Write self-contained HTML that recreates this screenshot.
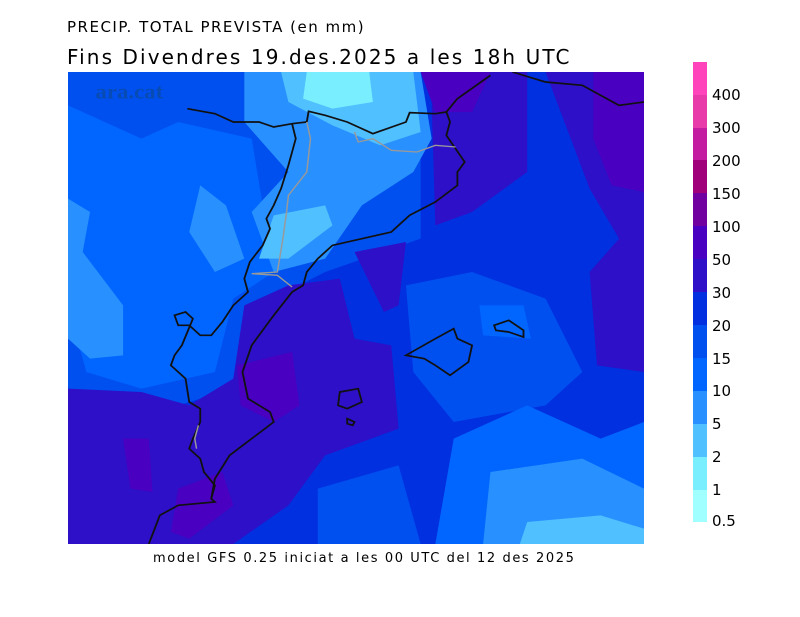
<!DOCTYPE html>
<html><head><meta charset="utf-8"><style>
body{margin:0;background:#fff;width:800px;height:617px;position:relative;overflow:hidden;font-family:"DejaVu Sans","Liberation Sans",sans-serif}
.t{position:absolute;color:#000;white-space:nowrap}
.lg{position:absolute;left:693px;width:14px;height:33px}
.ll{position:absolute;left:712px;font-size:15px}
</style></head><body>
<div class="t" style="left:67px;top:18px;font-size:15px;letter-spacing:1.5px">PRECIP. TOTAL PREVISTA (en mm)</div>
<div class="t" style="left:67px;top:45px;font-size:20px;letter-spacing:2.1px">Fins Divendres 19.des.2025 a les 18h UTC</div>
<svg style="position:absolute;left:68px;top:72px" width="576" height="472" viewBox="0 0 1568 1416" preserveAspectRatio="none">
<rect width="1568" height="1416" fill="#0030e0"/>
<path d="M0 0H960V500L700 600L520 700L450 950L300 1000L0 950Z" fill="#0050f0"/>
<path d="M0 100L200 200L300 150L500 200L560 600L450 680L400 900L200 950L50 900L0 700Z" fill="#0066ff"/>
<path d="M0 380L60 420L40 540L150 700L150 850L60 860L0 800Z" fill="#2890ff"/>
<path d="M360 340L430 400L480 560L400 600L330 480Z" fill="#2890ff"/>
<path d="M480 0H960L990 200L940 300L800 400L700 560L560 600L500 420L600 300L480 150Z" fill="#2890ff"/>
<path d="M580 0H940L960 180L850 220L720 160L600 90Z" fill="#50c0ff"/>
<path d="M560 430L700 400L720 460L600 560L520 560Z" fill="#50c0ff"/>
<path d="M650 0H820L830 90L720 110L640 80Z" fill="#78eeff"/>
<path d="M1000 120L1100 0H1568V1000L1450 900L1350 700L1100 600L1000 500L1000 300Z" fill="#0030e0"/>
<path d="M990 100L1060 0H1250V300L1100 420L1000 460Z" fill="#2d10c8"/>
<path d="M1300 0H1568V900L1440 880L1420 600L1500 500L1420 350Z" fill="#2d10c8"/>
<path d="M960 0H1150L1100 120L1000 120Z" fill="#4a00c0"/>
<path d="M1430 0H1568V360L1480 340L1430 200Z" fill="#4a00c0"/>
<path d="M0 950L200 960L330 1000L450 920L480 700L600 640L740 620L780 800L880 820L900 1070L700 1150L600 1300L450 1416H0Z" fill="#2d10c8"/>
<path d="M780 540L920 510L900 700L860 720Z" fill="#2d10c8"/>
<path d="M460 880L610 840L630 1000L560 1050L470 1000Z" fill="#4a00c0"/>
<path d="M300 1250L420 1200L450 1300L330 1400L280 1380Z" fill="#4a00c0"/>
<path d="M150 1100L220 1100L230 1260L170 1250Z" fill="#4a00c0"/>
<path d="M920 640L1100 600L1300 680L1400 900L1300 1000L1050 1050L940 900Z" fill="#0050f0"/>
<path d="M1120 700L1240 700L1260 800L1130 790Z" fill="#0066ff"/>
<path d="M1050 1100L1250 1000L1450 1100L1568 1050V1416H1000Z" fill="#0066ff"/>
<path d="M680 1250L900 1180L960 1416H680Z" fill="#0050f0"/>
<path d="M1150 1200L1400 1160L1568 1250V1416H1130Z" fill="#2890ff"/>
<path d="M1250 1350L1450 1330L1568 1370V1416H1230Z" fill="#50c0ff"/>
<g fill="none" stroke="#111" stroke-width="5">
<path d="M325 110L400 125L450 150L520 150L560 165L610 155L650 150L655 118L700 130L760 150L830 185L920 150L930 122L1000 125L1030 120L1040 150L1030 190L1055 230L1080 270L1060 300L1060 340L1000 390L930 430L880 480L800 500L720 520L680 560L650 600L640 640L610 660L560 730L500 820L475 900L490 980L550 1020L560 1050L500 1100L440 1150L400 1220L390 1280L400 1290L300 1300L250 1330L220 1416"/>
<path d="M610 155L620 200L600 280L580 350L560 400L540 440L550 470L530 520L495 570L480 620L490 660L450 700L420 750L390 790L360 790L330 760L300 760L290 730L320 720L340 740L310 820L290 850L280 880L320 920L330 990L360 1010L360 1050L340 1100L330 1130L360 1160L370 1200L400 1240L390 1280"/>
<path d="M1030 120L1060 80L1150 10"/>
<path d="M1210 0L1300 30L1400 40L1500 100L1568 90"/>
<path d="M920 850L1000 800L1050 770L1060 800L1100 820L1090 870L1040 910L1000 880L970 860Z"/>
<path d="M1160 760L1200 745L1240 775L1240 795L1200 780L1165 775Z"/>
<path d="M740 960L790 950L800 990L760 1010L735 1000Z"/>
<path d="M760 1040L780 1050L775 1060L760 1055Z"/>
</g>
<g fill="none" stroke="#999" stroke-width="4">
<path d="M650 150L660 200L650 300L600 370L595 420L585 500L570 600L500 605L570 610L610 645"/>
<path d="M780 180L790 210L830 200L880 235L950 240L1000 220L1055 225"/>
<path d="M355 1060L345 1100L350 1130"/>
</g>
<text x="75" y="80" font-family="Liberation Serif,serif" font-weight="bold" font-size="62" fill="#0a4a9a" opacity="0.7">ara.cat</text>
</svg>
<div class="lg" style="top:62px;background:#ff44bb"></div>
<div class="lg" style="top:95px;background:#e83aa8"></div>
<div class="lg" style="top:128px;background:#c41ca0"></div>
<div class="lg" style="top:160px;background:#a0007a"></div>
<div class="lg" style="top:193px;background:#7000a0"></div>
<div class="lg" style="top:226px;background:#4a00c0"></div>
<div class="lg" style="top:259px;background:#2d10c8"></div>
<div class="lg" style="top:292px;background:#0030e0"></div>
<div class="lg" style="top:325px;background:#0050f0"></div>
<div class="lg" style="top:358px;background:#0066ff"></div>
<div class="lg" style="top:391px;background:#2890ff"></div>
<div class="lg" style="top:424px;background:#50c0ff"></div>
<div class="lg" style="top:457px;background:#78eeff"></div>
<div class="lg" style="top:490px;height:32px;background:#a0ffff"></div>
<div class="ll" style="top:86px">400</div>
<div class="ll" style="top:119px">300</div>
<div class="ll" style="top:152px">200</div>
<div class="ll" style="top:185px">150</div>
<div class="ll" style="top:218px">100</div>
<div class="ll" style="top:251px">50</div>
<div class="ll" style="top:284px">30</div>
<div class="ll" style="top:317px">20</div>
<div class="ll" style="top:350px">15</div>
<div class="ll" style="top:382px">10</div>
<div class="ll" style="top:415px">5</div>
<div class="ll" style="top:448px">2</div>
<div class="ll" style="top:481px">1</div>
<div class="ll" style="top:512px">0.5</div>
<div class="t" style="left:153px;top:551px;font-size:13px;letter-spacing:1.6px">model GFS 0.25 iniciat a les 00 UTC del 12 des 2025</div>
</body></html>
